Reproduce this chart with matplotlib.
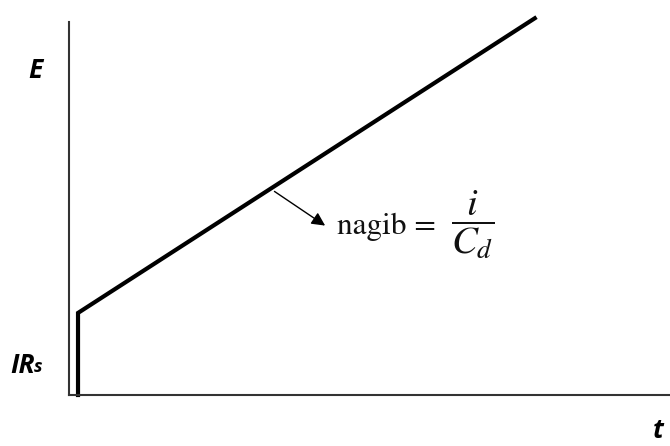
import matplotlib.pyplot as plt

# polarisation curve: jump of IRs at t=0, then linear charging with slope i/Cd
t = [0.15, 0.15, 7.75]
E = [0.0, 2.2, 10.1]

plt.rcParams['mathtext.fontset'] = 'stix'

fig = plt.figure(figsize=(6.7, 4.46), dpi=100)
ax = fig.add_axes([69 / 670, 51 / 446, 601 / 670, 373 / 446])
ax.set_xlim(0, 10)
ax.set_ylim(0, 10)

ax.plot(t, E, color='black', lw=3.0, solid_joinstyle='miter', clip_on=False)

for side in ['top', 'right']:
    ax.spines[side].set_visible(False)
for side in ['left', 'bottom']:
    ax.spines[side].set_linewidth(1.5)
    ax.spines[side].set_color('#333333')
ax.set_xticks([])
ax.set_yticks([])

lab = dict(family='Open Sans', weight='bold', style='italic', color='black')
ax.text(-0.068, 0.87, 'E', transform=ax.transAxes, fontsize=19, ha='left', va='center', **lab)
ir = ax.text(-0.097, 0.08, 'IR', transform=ax.transAxes, fontsize=19, ha='left', va='center', **lab)
ax.annotate('s', xy=(1.0, 0.0), xycoords=ir, xytext=(-1, 2), textcoords='offset points',
            fontsize=13, ha='left', va='bottom', **lab)
ax.text(0.972, -0.095, 't', transform=ax.transAxes, fontsize=19, ha='left', va='center', **lab)

ax.annotate('', xy=(4.3, 4.5), xytext=(3.38, 5.5),
            arrowprops=dict(arrowstyle='-|>,head_length=0.8,head_width=0.4', color='black', lw=1.0))
ax.text(4.46, 4.5, 'nagib =', fontsize=22.5, family='STIXGeneral',
        ha='left', va='center', color='#111111')
ax.text(6.35, 4.55, r'$\dfrac{i}{C_d}$', fontsize=28,
        ha='left', va='center', color='#111111')

plt.savefig('out.png', dpi=100)
